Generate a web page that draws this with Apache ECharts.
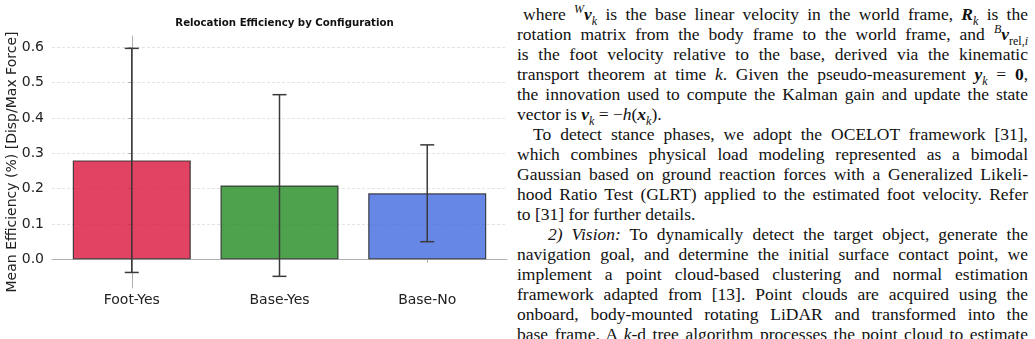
<!DOCTYPE html>
<html>
<head>
<meta charset="utf-8">
<script src="https://cdn.jsdelivr.net/npm/echarts@6/dist/echarts.min.js"></script>
<style>
  html, body { margin: 0; padding: 0; background: #fff; width: 1035px; height: 339px; overflow: hidden; }
  #chart { position: absolute; left: 0; top: 0; width: 515px; height: 339px; }
  #text { position: absolute; left: 517px; top: 3.5px; width: 511px;
          font-family: "Liberation Serif", "DejaVu Serif", serif; font-size: 17.5px; line-height: 20px; color: #111;
          word-spacing: -1.5px; }
  .l { text-align: justify; text-align-last: justify; white-space: nowrap; height: 20px; }
  .e { text-align: left; text-align-last: left; word-spacing: 0; }
  .f { padding-left: 6px; }
  .i1 { padding-left: 16px; }
  .i2 { padding-left: 31px; }
  sub, sup { font-size: 12px; line-height: 0; }
  .bv { font-weight: bold; font-style: italic; }
</style>
</head>
<body>
<div id="chart"></div>
<div id="text">
  <div class="l f">where <sup><i>W</i></sup><span class="bv">v</span><sub><i>k</i></sub> is the base linear velocity in the world frame, <span class="bv">R</span><sub><i>k</i></sub> is the</div>
  <div class="l">rotation matrix from the body frame to the world frame, and <sup><i>B</i></sup><span class="bv">v</span><sub>rel,<i>i</i></sub></div>
  <div class="l">is the foot velocity relative to the base, derived via the kinematic</div>
  <div class="l">transport theorem at time <i>k</i>. Given the pseudo-measurement <span class="bv">y</span><sub><i>k</i></sub> = <b>0</b>,</div>
  <div class="l">the innovation used to compute the Kalman gain and update the state</div>
  <div class="l e">vector is <span class="bv">ν</span><sub><i>k</i></sub> = −<i>h</i>(<span class="bv">x</span><sub><i>k</i></sub>).</div>
  <div class="l i1">To detect stance phases, we adopt the OCELOT framework [31],</div>
  <div class="l">which combines physical load modeling represented as a bimodal</div>
  <div class="l">Gaussian based on ground reaction forces with a Generalized Likeli-</div>
  <div class="l">hood Ratio Test (GLRT) applied to the estimated foot velocity. Refer</div>
  <div class="l e">to [31] for further details.</div>
  <div class="l i2"><i>2) Vision:</i> To dynamically detect the target object, generate the</div>
  <div class="l">navigation goal, and determine the initial surface contact point, we</div>
  <div class="l">implement a point cloud-based clustering and normal estimation</div>
  <div class="l">framework adapted from [13]. Point clouds are acquired using the</div>
  <div class="l">onboard, body-mounted rotating LiDAR and transformed into the</div>
  <div class="l">base frame. A <i>k</i>-d tree algorithm processes the point cloud to estimate</div>
</div>
<script>
const categories = ["Foot-Yes", "Base-Yes", "Base-No"];
const means = [0.280, 0.209, 0.187];
const errors = [0.317, 0.257, 0.137];
const barColors = ["rgba(220,20,60,0.8)", "rgba(34,139,34,0.8)", "rgba(65,105,225,0.8)"];
const yTicks = [0.0, 0.1, 0.2, 0.3, 0.4, 0.5, 0.6];
const xTicks = [0, 1, 2];

const chart = echarts.init(document.getElementById('chart'), null, { renderer: 'canvas' });
const font = '"DejaVu Sans", sans-serif';

const option = {
  animation: false,
  backgroundColor: '#fff',
  title: {
    text: 'Relocation Efficiency by Configuration',
    left: 279.5, top: 13, textAlign: 'center',
    textStyle: { fontFamily: font, fontSize: 10.2, fontWeight: 'bold', color: '#111' }
  },
  grid: { left: 52, right: 8, top: 36, bottom: 51, containLabel: false, outerBoundsMode: 'none' },
  xAxis: {
    type: 'value', min: -0.54, max: 2.54,
    axisLine: { show: true, lineStyle: { color: '#b0b0b0', width: 1 } },
    axisTick: { show: true, customValues: xTicks, length: 3.5, lineStyle: { color: '#b0b0b0' } },
    axisLabel: { customValues: xTicks, formatter: v => categories[Math.round(v)] || '',
                 fontFamily: font, fontSize: 14, color: '#222', margin: 5 },
    splitLine: { show: false }
  },
  yAxis: {
    type: 'value', min: -0.081, max: 0.632,
    name: 'Mean Efficiency (%) [Disp/Max Force]', nameLocation: 'middle', nameGap: 33,
    nameMoveOverlap: false,
    nameTextStyle: { fontFamily: font, fontSize: 14, color: '#222' },
    axisLine: { show: true, lineStyle: { color: '#b0b0b0', width: 1 } },
    axisTick: { show: true, customValues: yTicks, length: 3.5, lineStyle: { color: '#b0b0b0' } },
    axisLabel: { customValues: yTicks, formatter: v => v.toFixed(1),
                 fontFamily: font, fontSize: 14, color: '#222', margin: 8 },
    splitLine: { show: true, lineStyle: { color: '#dcdcdc', width: 0.8, type: [3, 2] } }
  },
  series: [
    {
      type: 'bar',
      barWidth: 118,
      data: means.map((m, i) => ({ value: [i, m], itemStyle: { color: barColors[i] } })),
      itemStyle: { borderColor: 'rgba(40,40,40,0.85)', borderWidth: 1.2 },
      z: 2
    },
    {
      type: 'custom',
      z: 3,
      data: means.map((m, i) => [i, m - errors[i], m + errors[i]]),
      renderItem: function (params, api) {
        const x = api.value(0);
        const lo = api.coord([x, api.value(1)]);
        const hi = api.coord([x, api.value(2)]);
        const cap = 7;
        const style = { stroke: '#3a3a3a', lineWidth: 1.5 };
        return {
          type: 'group',
          children: [
            { type: 'line', shape: { x1: lo[0], y1: lo[1], x2: hi[0], y2: hi[1] }, style: style },
            { type: 'line', shape: { x1: lo[0] - cap, y1: lo[1], x2: lo[0] + cap, y2: lo[1] }, style: style },
            { type: 'line', shape: { x1: hi[0] - cap, y1: hi[1], x2: hi[0] + cap, y2: hi[1] }, style: style }
          ]
        };
      }
    }
  ]
};
chart.setOption(option);
</script>
</body>
</html>
